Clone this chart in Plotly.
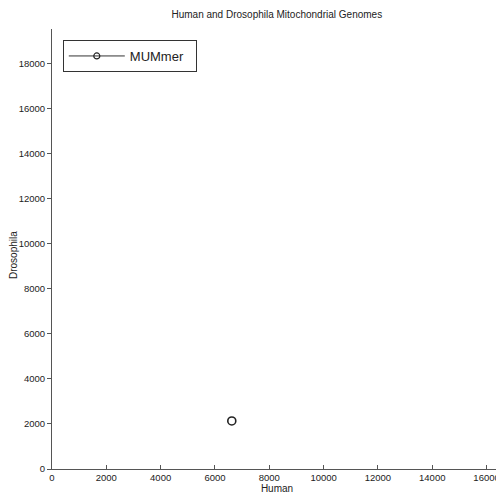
import plotly.graph_objects as go

human = [6620]
drosophila = [2130]
series_name = "MUMmer"
x_ticks = [0, 2000, 4000, 6000, 8000, 10000, 12000, 14000, 16000]
y_ticks = [0, 2000, 4000, 6000, 8000, 10000, 12000, 14000, 16000, 18000]
x_max = 16569
y_max = 19517

fig = go.Figure()
fig.add_trace(go.Scatter(
    x=human, y=drosophila, mode="markers", name=series_name,
    marker=dict(symbol="circle-open", size=8, color="#222222", line=dict(width=1.6)),
    showlegend=False,
))
# legend entry (line with small marker, as in the reference)
fig.add_trace(go.Scatter(
    x=[None], y=[None], mode="lines+markers", name=series_name + "\u00a0\u00a0",
    line=dict(color="#333333", width=1),
    marker=dict(symbol="circle-open", size=6, color="#222222", line=dict(width=1.2)),
    showlegend=True,
))

font = "Liberation Sans, Arial, sans-serif"
fig.update_layout(
    width=496, height=494,
    margin=dict(l=44, r=1.5, t=21, b=33, autoexpand=False),
    paper_bgcolor="white", plot_bgcolor="white",
    title=dict(text="Human and Drosophila Mitochondrial Genomes", x=0.542, xanchor="center",
               y=0.986, yanchor="middle", font=dict(family=font, size=10, color="#222"),
               automargin=False),
    font=dict(family=font, size=10, color="#222"),
    showlegend=True,
    legend=dict(x=0.024, y=0.975, xanchor="left", yanchor="top",
                bordercolor="#333", borderwidth=1, bgcolor="white",
                itemwidth=56,
                font=dict(family=font, size=13, color="#222")),
    xaxis=dict(range=[0, x_max], tickvals=x_ticks, ticktext=[str(v) for v in x_ticks],
               showgrid=False, zeroline=False, showline=True, linecolor="#555", linewidth=1,
               ticks="inside", ticklen=4, tickcolor="#555", automargin=False,
               tickfont=dict(size=9.5),
               title=dict(text="Human", standoff=2, font=dict(size=10))),
    yaxis=dict(range=[0, y_max], tickvals=y_ticks, ticktext=[str(v) for v in y_ticks],
               showgrid=False, zeroline=False, showline=True, linecolor="#555", linewidth=1,
               ticks="outside", ticklen=4, tickcolor="#555", automargin=False,
               tickfont=dict(size=9.5)),
    annotations=[dict(text="Drosophila", xref="paper", yref="paper", x=-0.087, y=0.486,
                      xanchor="center", yanchor="middle", textangle=-90, showarrow=False,
                      font=dict(family=font, size=10, color="#222"))],
)
fig.write_html("out.html")
